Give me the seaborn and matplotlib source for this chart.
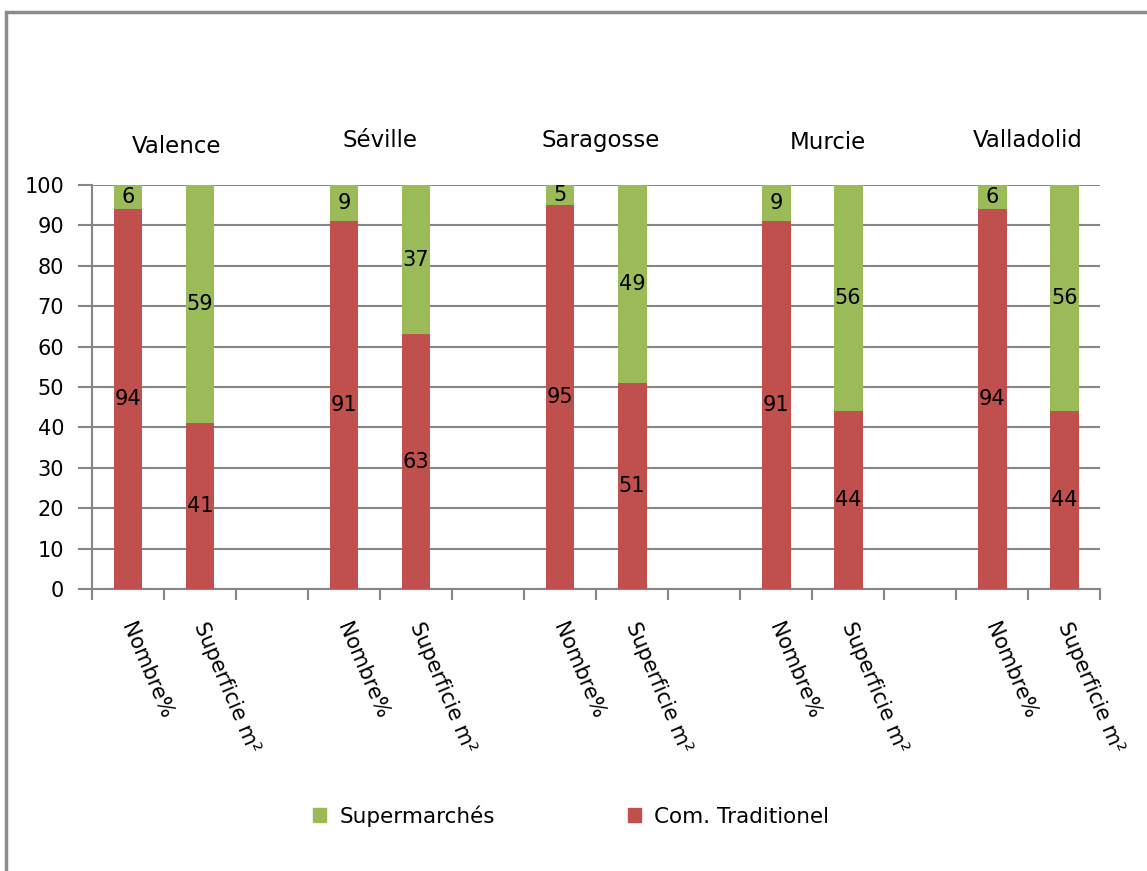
import numpy as np
import seaborn as sns
import pandas as pd
import matplotlib.pyplot as plt
import matplotlib.transforms as mtransforms
from matplotlib.patches import Rectangle

cities = ['Valence', 'Séville', 'Saragosse', 'Murcie', 'Valladolid']
measures = ['Nombre%', 'Superficie m²']
traditionnel = [94, 41, 91, 63, 95, 51, 91, 44, 94, 44]
supermarches = [6, 59, 9, 37, 5, 49, 9, 56, 6, 56]

GREEN = '#9BBB59'
RED = '#C0504D'
GRID = '#868686'

# one slot per bar plus an empty slot between cities
order = []
labels = []
rows = []
k = 0
for i, city in enumerate(cities):
    for m in measures:
        key = city + '|' + m
        order.append(key)
        labels.append(m)
        rows.append({'slot': key, 'trad': traditionnel[k], 'super': supermarches[k],
                     'total': traditionnel[k] + supermarches[k]})
        k += 1
    if i < len(cities) - 1:
        order.append(' ' * (i + 1))
        labels.append('')
df = pd.DataFrame(rows)

plt.rcParams['font.family'] = ['DejaVu Sans']
fig = plt.figure(figsize=(11.47, 8.71), dpi=100)
ax = fig.add_axes([0.0802, 0.3238, 0.879, 0.4638])

sns.barplot(data=df, x='slot', y='total', order=order, color=GREEN, width=0.4,
            saturation=1, ax=ax, errorbar=None, legend=False)
sns.barplot(data=df, x='slot', y='trad', order=order, color=RED, width=0.4,
            saturation=1, ax=ax, errorbar=None, legend=False)

# segment labels
green_c, red_c = ax.containers[0], ax.containers[1]
ax.bar_label(red_c, labels=[str(v) for v in traditionnel], label_type='center',
             fontsize=15, color='black')
for bar, v in zip(green_c, supermarches):
    bottom = bar.get_height() - v
    ax.text(bar.get_x() + bar.get_width() / 2, bottom + v / 2, str(v),
            ha='center', va='center', fontsize=15, color='black')
for bar in green_c:
    bar.set_zorder(2)
for bar in red_c:
    bar.set_zorder(3)
for t in ax.texts:
    t.set_zorder(5)

ax.set_xlim(-0.5, len(order) - 0.5)
ax.set_ylim(0, 100)
ax.set_yticks(np.arange(0, 101, 10))
ax.yaxis.grid(True, color=GRID, linewidth=1.5)
ax.set_axisbelow(True)
ax.set_xlabel('')
ax.set_ylabel('')

ax.set_xticks(np.arange(-0.5, len(order), 1))
ax.set_xticklabels([])
ax.set_xticks(np.arange(len(order)), labels, minor=True)
ax.tick_params(axis='x', which='major', length=8, width=1.5, color=GRID)
ax.tick_params(axis='x', which='minor', length=0, pad=22, labelsize=15)
shift = mtransforms.ScaledTranslation(8 / 100, 0, fig.dpi_scale_trans)
for lab in ax.get_xticklabels(minor=True):
    lab.set_rotation(-67)
    lab.set_ha('left')
    lab.set_va('top')
    lab.set_rotation_mode('anchor')
    lab.set_transform(lab.get_transform() + shift)
ax.tick_params(axis='y', length=10, width=1.5, color=GRID, labelsize=15, pad=10)

for s in ['top', 'right']:
    ax.spines[s].set_visible(False)
for s in ['left', 'bottom']:
    ax.spines[s].set_color(GRID)
    ax.spines[s].set_linewidth(1.5)

# city names above the bars
city_x = [0.67, 3.5, 6.56, 9.72, 12.49]
city_y = [109.5, 111, 111, 110.5, 111]
for name, cx, cy in zip(cities, city_x, city_y):
    ax.text(cx, cy, name, ha='center', va='center', fontsize=16.5, clip_on=False)

handles = [plt.Rectangle((0, 0), 1, 1, color=GREEN),
           plt.Rectangle((0, 0), 1, 1, color=RED)]
fig.legend(handles, ['Supermarchés', 'Com. Traditionel'], loc='center',
           bbox_to_anchor=(0.498, 0.063), ncol=2, frameon=False, fontsize=15.5,
           handlelength=0.6, handleheight=0.6, handletextpad=0.6, columnspacing=6.2)

fig.patches.append(Rectangle((0.005, -0.1), 1.2, 1.086, transform=fig.transFigure,
                             fill=False, edgecolor='#8C8C8C', linewidth=2.5))

fig.savefig('out.png', dpi=100)
